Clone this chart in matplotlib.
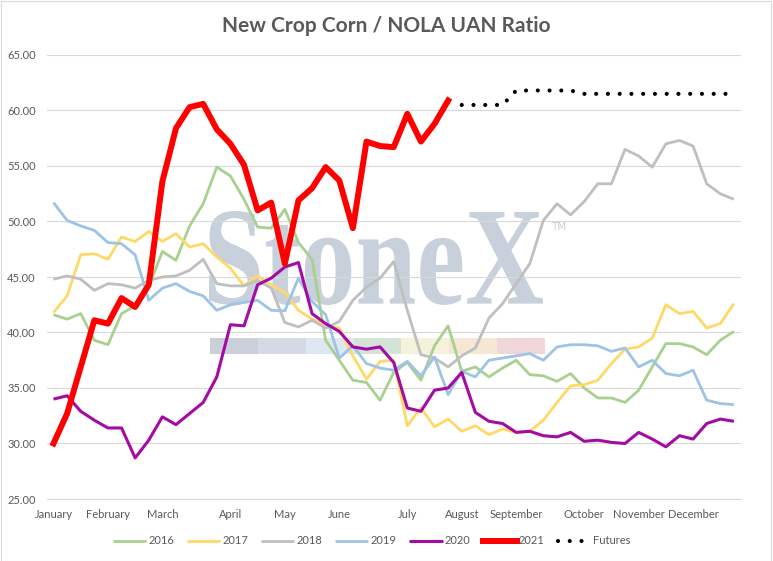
import numpy as np
import matplotlib
matplotlib.use("Agg")
import matplotlib.pyplot as plt
from matplotlib.lines import Line2D
from matplotlib.patches import Rectangle, PathPatch
from matplotlib.textpath import TextPath
from matplotlib.font_manager import FontProperties
from matplotlib.transforms import Affine2D

# ---------------- data ----------------
week_labels = ["January", "", "", "", "February", "", "", "", "March", "", "", "", "",
               "April", "", "", "", "May", "", "", "", "June", "", "", "", "",
               "July", "", "", "", "August", "", "", "", "September", "", "", "", "",
               "October", "", "", "", "November", "", "", "", "December", "", "", ""]

s2016 = [41.6, 41.2, 41.7, 39.3, 38.9, 41.7, 42.4, 44.1, 47.3, 46.5, 49.6, 51.6, 54.9,
         54.1, 52.0, 49.5, 49.4, 51.1, 48.1, 46.6, 39.3, 37.5, 35.7, 35.5, 33.9, 36.4,
         37.3, 35.7, 38.8, 40.6, 36.5, 36.9, 36.0, 36.8, 37.5, 36.2, 36.1, 35.6, 36.3,
         35.0, 34.1, 34.1, 33.7, 34.8, 36.9, 39.0, 39.0, 38.7, 38.0, 39.3, 40.1]
s2017 = [41.8, 43.3, 47.0, 47.1, 46.6, 48.6, 48.2, 49.1, 48.2, 48.9, 47.7, 48.0, 46.8,
         45.8, 44.2, 45.1, 44.3, 43.6, 42.0, 41.2, 40.7, 40.4, 37.9, 35.8, 37.4, 37.5,
         31.6, 33.2, 31.5, 32.2, 31.1, 31.6, 30.8, 31.3, 31.0, 31.1, 32.1, 33.7, 35.2,
         35.3, 35.7, 37.2, 38.5, 38.7, 39.5, 42.5, 41.7, 41.9, 40.4, 40.8, 42.6]
s2018 = [44.8, 45.1, 44.8, 43.8, 44.4, 44.3, 44.0, 44.7, 45.0, 45.1, 45.6, 46.6, 44.4,
         44.2, 44.2, 44.7, 44.0, 40.9, 40.5, 41.1, 40.4, 41.0, 42.9, 44.1, 44.9, 46.4,
         42.0, 38.0, 37.7, 36.9, 37.9, 38.6, 41.3, 42.6, 44.4, 46.2, 50.1, 51.6, 50.6,
         51.8, 53.4, 53.4, 56.5, 55.9, 54.9, 57.0, 57.3, 56.8, 53.4, 52.5, 52.0]
s2019 = [51.7, 50.1, 49.6, 49.2, 48.1, 48.0, 47.0, 42.9, 44.0, 44.4, 43.7, 43.3, 42.0,
         42.5, 42.7, 42.9, 42.0, 41.95, 44.9, 42.8, 41.6, 37.7, 38.8, 37.2, 36.8, 36.6,
         37.4, 36.1, 37.8, 34.4, 36.5, 36.0, 37.5, 37.7, 37.9, 38.1, 37.5, 38.7, 38.9,
         38.9, 38.8, 38.3, 38.6, 36.9, 37.5, 36.3, 36.1, 36.6, 33.9, 33.6, 33.5]
s2020 = [34.0, 34.3, 32.9, 32.1, 31.4, 31.4, 28.7, 30.3, 32.4, 31.7, 32.7, 33.7, 36.0,
         40.7, 40.6, 44.3, 44.9, 45.9, 46.3, 41.7, 40.8, 40.1, 38.7, 38.5, 38.7, 37.3,
         33.2, 32.9, 34.8, 35.0, 36.4, 32.8, 32.0, 31.8, 31.0, 31.1, 30.7, 30.6, 31.0,
         30.2, 30.3, 30.1, 30.0, 31.0, 30.4, 29.7, 30.7, 30.4, 31.8, 32.2, 32.0]
s2021 = [30.0, 32.7, 36.9, 41.1, 40.8, 43.1, 42.3, 44.3, 53.6, 58.4, 60.3, 60.6, 58.3,
         57.0, 55.1, 51.0, 51.7, 46.2, 51.9, 53.0, 54.9, 53.7, 49.4, 57.2, 56.8, 56.7,
         59.7, 57.2, 58.8, 60.9]
futures = [60.5, 60.5, 60.5, 60.5, 61.8, 61.8, 61.8, 61.8, 61.8, 61.5, 61.5, 61.5,
           61.5, 61.5, 61.5, 61.5, 61.5, 61.5, 61.5, 61.5, 61.5]
futures_start = len(s2021)

y_ticks = [25, 30, 35, 40, 45, 50, 55, 60, 65]

# ---------------- style ----------------
W, H = 773, 561
FONT = ["Lato", "DejaVu Sans"]
plt.rcParams["font.family"] = FONT
TXT = "#595959"
GRID = "#d9d9d9"
WM = "#c8d0db"

fig = plt.figure(figsize=(W / 100, H / 100), dpi=100)
ax = fig.add_axes([46.7 / W, 1 - 499 / H, (740.7 - 46.7) / W, (499 - 55) / H])

def px2fig(x, y):
    return x / W, 1 - y / H

# watermark "StoneX" with colour bar
tp = TextPath((0, 0), "StoneX", size=100,
              prop=FontProperties(family="Liberation Serif", weight="bold"))
ext = tp.get_extents()
x0p, x1p, ytop, ybase = 209, 543, 211, 305
sx = (x1p - x0p) / ext.width
sy = (ybase - ytop) / ext.height
tr = (Affine2D().translate(-ext.x0, -ext.y0).scale(sx, sy)
      .translate(x0p, H - ybase).scale(1 / W, 1 / H) + fig.transFigure)
fig.patches.append(PathPatch(tp, transform=tr, facecolor=WM, edgecolor="none", zorder=0.5))
fig.text(551 / W, 1 - 227 / H, "TM", fontsize=7.5, color=WM, va="center", ha="left",
         family=["DejaVu Sans"], zorder=0.5)
bar_cols = ["#c9d0da", "#d3dae3", "#dde8f2", "#d4e3da", "#f4f2da", "#f6e6d4", "#f0d6d9"]
seg_w = (545 - 210) / len(bar_cols)
for k, c in enumerate(bar_cols):
    fx, fy = px2fig(210 + k * seg_w, 354)
    fig.patches.append(Rectangle((fx, fy), seg_w / W, 16 / H, transform=fig.transFigure,
                                 facecolor=c, edgecolor="none", zorder=0.5))

ax.set_facecolor("none")
ax.set_zorder(1)

x = np.arange(len(week_labels))
series = [
    ("2016", s2016, "#a9d18e", 2.0),
    ("2017", s2017, "#ffd966", 2.0),
    ("2018", s2018, "#bfbfbf", 2.0),
    ("2019", s2019, "#9dc3e6", 2.0),
    ("2020", s2020, "#a30ba3", 2.2),
]
handles = []
for name, vals, col, lw in series:
    ln, = ax.plot(x[:len(vals)], vals, color=col, lw=lw, solid_joinstyle="round",
                  solid_capstyle="butt", label=name)
    handles.append(ln)
ln21, = ax.plot(x[:len(s2021)], s2021, color="#ff0000", lw=4.3, solid_joinstyle="round",
                label="2021")
handles.append(ln21)
fx = np.arange(futures_start, futures_start + len(futures))
lnf, = ax.plot(fx, futures, color="black", lw=3.0, linestyle=(0, (0.001, 2.82)),
               dash_capstyle="round", label="Futures")
handles.append(lnf)

ax.set_xlim(-0.5, len(week_labels) - 0.5)
ax.set_ylim(25, 65)
ax.set_yticks(y_ticks)
ax.set_yticklabels([f"{v:.2f}" for v in y_ticks])
ax.set_xticks(x)
ax.set_xticklabels(week_labels)
ax.tick_params(axis="both", length=0, labelsize=8, labelcolor=TXT)
ax.tick_params(axis="y", pad=8)
ax.tick_params(axis="x", pad=7)
ax.grid(axis="y", color=GRID, lw=0.8)
ax.set_axisbelow(True)
for s in ["left", "right", "top"]:
    ax.spines[s].set_visible(False)
ax.spines["bottom"].set_color(GRID)
ax.spines["bottom"].set_linewidth(0.8)

fig.text(386 / W, 1 - 26 / H, "New Crop Corn / NOLA UAN Ratio", ha="center", va="center",
         fontsize=15, fontweight="bold", color=TXT)

leg = fig.legend(handles=handles, loc="center", bbox_to_anchor=(371.5 / W, 1 - 541 / H),
                 ncol=7, frameon=False, fontsize=8, handlelength=3.0, handletextpad=0.2,
                 columnspacing=1.15, labelcolor=TXT)

fig.patches.append(Rectangle((0.5 / W, 0.5 / H), 770 / W, (H - 1) / H, transform=fig.transFigure,
                             facecolor="none", edgecolor=GRID, lw=0.8, zorder=0))

fig.savefig("out.png", dpi=100, facecolor="white")
